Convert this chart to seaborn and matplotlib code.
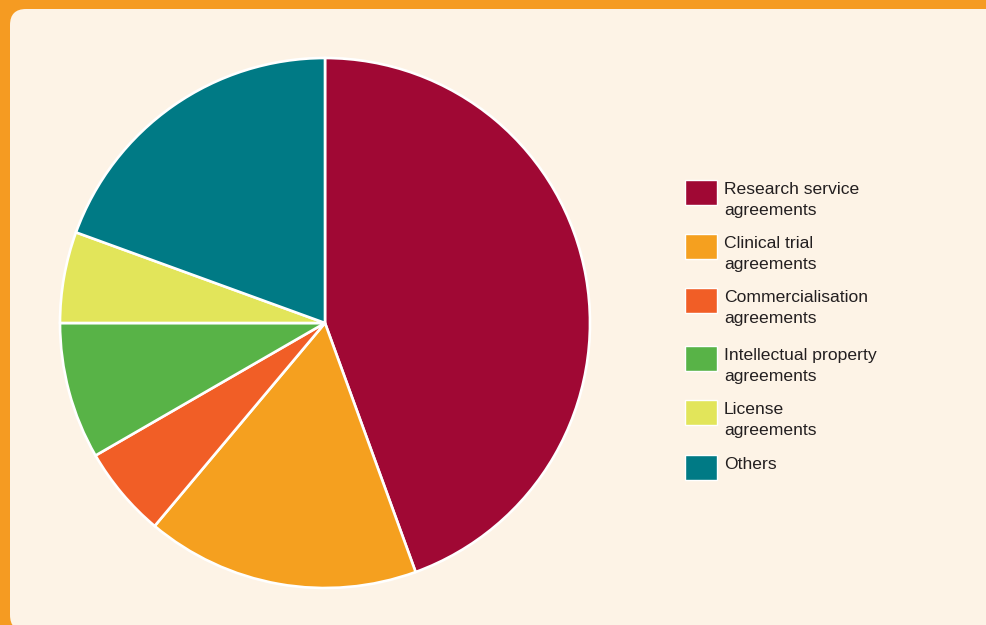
import matplotlib
matplotlib.use("Agg")
import matplotlib.pyplot as plt
from matplotlib.patches import FancyBboxPatch, Rectangle
import seaborn as sns

# Agreement counts by type
categories = [
    "Research service\nagreements",
    "Clinical trial\nagreements",
    "Commercialisation\nagreements",
    "Intellectual property\nagreements",
    "License\nagreements",
    "Others",
]
counts = [16, 6, 2, 3, 2, 7]
colors = ["#A00834", "#F5A01F", "#F15E26", "#58B347", "#E2E55A", "#007A85"]

sns.set_style("white")
plt.rcParams["font.family"] = ["Liberation Sans", "DejaVu Sans"]

W, H = 986, 625
fig = plt.figure(figsize=(W / 100, H / 100), dpi=100)
fig.patch.set_facecolor("#F59B22")

# cream rounded panel behind everything (coordinates in pixels)
panel = FancyBboxPatch((10, -6), 1000, 622,
                       boxstyle="round,pad=0,rounding_size=16",
                       transform=None, facecolor="#FDF3E6",
                       edgecolor="none", zorder=-10)
fig.patches.append(panel)

cx, cy, r = 325, 323, 265
ax = fig.add_axes([(cx - r) / W, (H - cy - r) / H, 2 * r / W, 2 * r / H])
ax.set_zorder(5)
ax.patch.set_alpha(0)
ax.pie(counts, colors=colors, startangle=90, counterclock=False,
       radius=1.0, wedgeprops=dict(edgecolor="white", linewidth=1.9))
ax.set_xlim(-1.0, 1.0)
ax.set_ylim(-1.0, 1.0)
ax.set_aspect("equal")
ax.axis("off")

# legend entries
tops = [180, 234, 288, 346, 400, 455]
for lab, col, top in zip(categories, colors, tops):
    fig.patches.append(Rectangle((685 / W, (H - top - 25) / H), 32 / W, 25 / H,
                                 transform=fig.transFigure, facecolor=col,
                                 edgecolor="white", linewidth=1.0, zorder=2))
    fig.text(724 / W, (H - top - 2) / H, lab, ha="left", va="top",
             fontsize=12.6, color="#231F20", linespacing=1.52, zorder=3)

fig.savefig("out.png", dpi=100, facecolor=fig.get_facecolor())
